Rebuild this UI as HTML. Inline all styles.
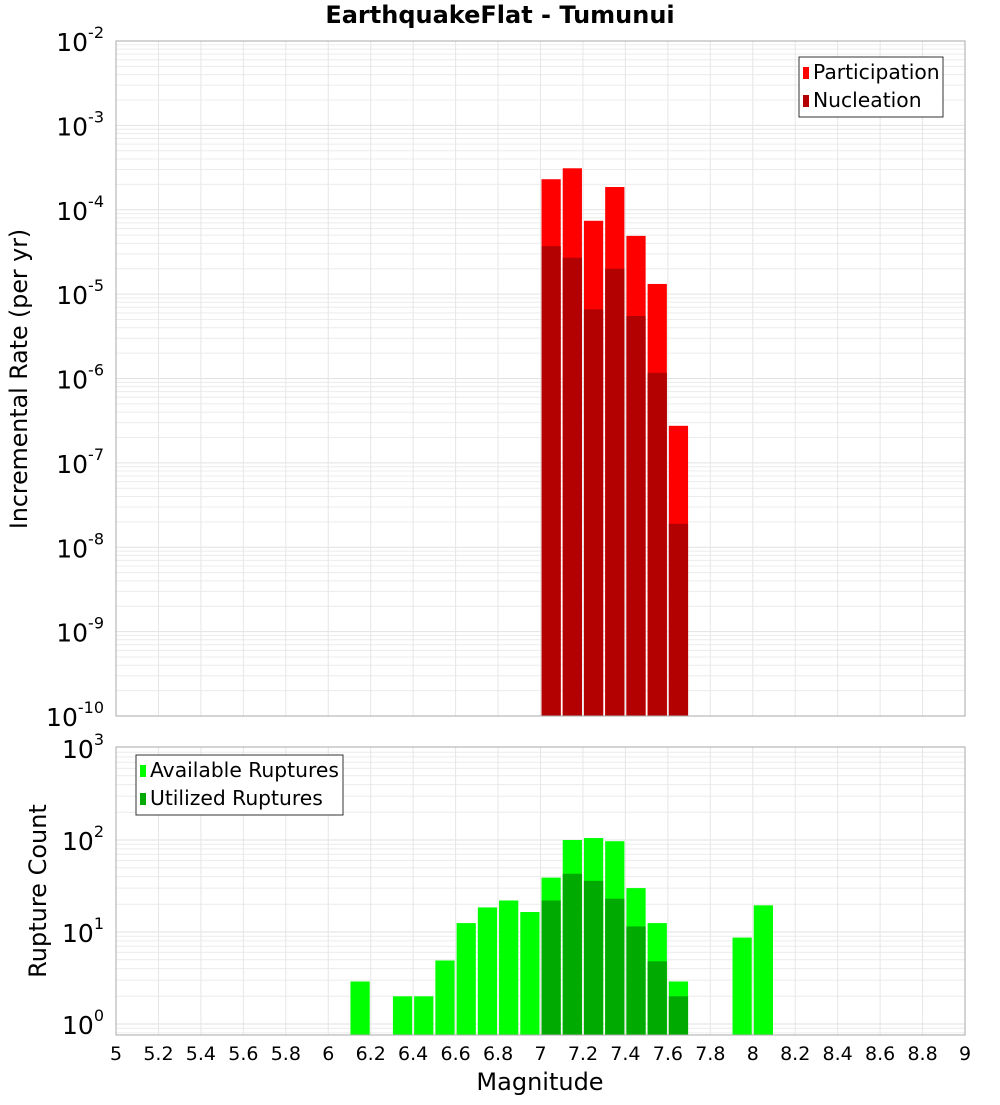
<!DOCTYPE html>
<html><head><meta charset="utf-8"><style>
body{margin:0;background:#fff;}
svg text{font-family:"DejaVu Sans","Liberation Sans",sans-serif;}
</style></head><body>
<svg id="chart" width="1000" height="1100" xmlns="http://www.w3.org/2000/svg">
<text x="500" y="23" text-anchor="middle" font-size="24" font-weight="bold">EarthquakeFlat - Tumunui</text>
<g id="top"></g><g id="bot"></g>
<text transform="translate(27,379) rotate(-90)" text-anchor="middle" font-size="23.7">Incremental Rate (per yr)</text>
<text transform="translate(46,891) rotate(-90)" text-anchor="middle" font-size="24">Rupture Count</text>
<text x="540" y="1090" text-anchor="middle" font-size="24">Magnitude</text>
</svg>
<script>
const mags=[7.05,7.15,7.25,7.35,7.45,7.55,7.65];
const participation=[2.3e-4,3.1e-4,7.4e-5,1.86e-4,4.9e-5,1.32e-5,2.75e-7];
const nucleation=[3.7e-5,2.7e-5,6.6e-6,2.0e-5,5.5e-6,1.17e-6,1.9e-8];
const availMags=[6.15,6.35,6.45,6.55,6.65,6.75,6.85,6.95,7.05,7.15,7.25,7.35,7.45,7.55,7.65,7.95,8.05];
const available=[2.9,2,2,4.9,12.5,18.5,22,16.5,39,100,105,97,30,12.5,2.9,8.7,19.5];
const utilMags=[7.05,7.15,7.25,7.35,7.45,7.55,7.65];
const utilized=[22,43,36,23,11.5,4.8,2];
const xTicks=[5,5.2,5.4,5.6,5.8,6,6.2,6.4,6.6,6.8,7,7.2,7.4,7.6,7.8,8,8.2,8.4,8.6,8.8,9];

const NS="http://www.w3.org/2000/svg";
const L=116,R=965;
const x=v=>L+(v-5)/4*(R-L);
const T1=41,B1=716,yTop=v=>T1+(-2-Math.log10(v))*(B1-T1)/8;
const T2=747,B2=1035,yBot=v=>748+(3-Math.log10(v))*92;
function el(p,tag,a){const e=document.createElementNS(NS,tag);for(const k in a)e.setAttribute(k,a[k]);p.appendChild(e);return e;}
function panel(g,T,B,yf,dmin,dmax,name){
  const bg=el(g,'rect',{x:L,y:T,width:R-L,height:B-T,fill:'#fff'});
  
  
  for(let d=dmin;d<dmax;d++)for(let m=1;m<10;m++){const yy=yf(m*Math.pow(10,d));if(yy<T||yy>B)continue;
    const ln=el(g,'line',{x1:L,x2:R,y1:yy,y2:yy,stroke:m==1?'#e2e2e2':'#ececec','stroke-width':1});
    
    }
  xTicks.forEach(t=>{const ln=el(g,'line',{x1:x(t),x2:x(t),y1:T,y2:B,stroke:'#e6e6e6'});
    
    });
}
function bars(g,ms,vs,yf,B,col,name){ms.forEach((m,i)=>{const y0=Math.max(yf(vs[i]),0);
  const r=el(g,'rect',{x:x(m-0.05)+1,y:y0,width:x(m+0.05)-x(m-0.05)-2,height:B-y0,fill:col});
  
  });}
function yLabels(g,dmin,dmax,yf,name){for(let d=dmin;d<=dmax;d++){const t=el(g,'text',{x:104,y:yf(Math.pow(10,d))+10,'text-anchor':'end','font-size':25});
  
  
  t.textContent='10';const s=el(t,'tspan',{dy:-13,'font-size':16});s.textContent=String(d);}}
function frame(g,T,B,name){const f=el(g,'rect',{x:L,y:T,width:R-L,height:B-T,fill:'none',stroke:'#aaa'});
  
  }
function legend(g,lx,ly,w,items,name){const b=el(g,'rect',{x:lx,y:ly,width:w,height:60,fill:'#fff',stroke:'#333'});
  
  
  items.forEach((it,i)=>{const sw=el(g,'rect',{x:lx+4,y:ly+10+i*28,width:6,height:12,fill:it[1]});
    
    
    const t=el(g,'text',{x:lx+14,y:ly+22+i*28,'font-size':20.3});
    
    
    t.textContent=it[0];});}
const gt=document.getElementById('top'),gb=document.getElementById('bot');
panel(gt,T1,B1,yTop,-10,-2,'top');
bars(gt,mags,participation,yTop,B1,'#ff0000','participation');
bars(gt,mags,nucleation,yTop,B1,'#b30000','nucleation');
frame(gt,T1,B1,'top');
yLabels(gt,-10,-2,yTop,'top');
legend(gt,799,57,144,[['Participation','#ff0000'],['Nucleation','#b30000']],'top');
panel(gb,T2,B2,yBot,-1,3,'bottom');
bars(gb,availMags,available,yBot,B2,'#00ff00','available');
bars(gb,utilMags,utilized,yBot,B2,'#00aa00','utilized');
frame(gb,T2,B2,'bottom');
yLabels(gb,0,3,yBot,'bottom');
legend(gb,136,755,207,[['Available Ruptures','#00ff00'],['Utilized Ruptures','#00aa00']],'bottom');
xTicks.forEach(t=>{const tx=el(gb,'text',{x:x(t),y:1060,'text-anchor':'middle','font-size':19});
  
  
  tx.textContent=String(t);});
</script>
</body></html>
